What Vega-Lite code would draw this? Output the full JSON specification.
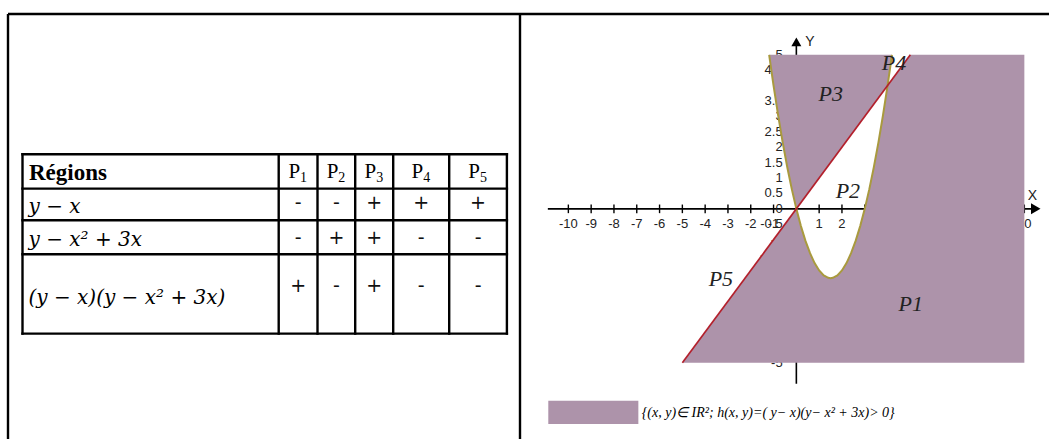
{
  "$schema": "https://vega.github.io/schema/vega-lite/v6.json",
  "padding": {"left": 6, "top": 12, "right": 0, "bottom": 0},
  "spacing": 0,
  "bounds": "flush",
  "background": "white",
  "config": {"view": {"stroke": null}},
  "datasets": {
    "frameL": [
      {"x": 0, "x2": 512, "y": 0, "y2": 0},
      {"x": 0, "x2": 0, "y": 0, "y2": 425},
      {"x": 512, "x2": 512, "y": 0, "y2": 425}
    ],
    "grid": [
      {"x": 14.5, "x2": 14.5, "y": 140.2, "y2": 319.6},
      {"x": 270.7, "x2": 270.7, "y": 140.2, "y2": 319.6},
      {"x": 309.5, "x2": 309.5, "y": 140.2, "y2": 319.6},
      {"x": 347.2, "x2": 347.2, "y": 140.2, "y2": 319.6},
      {"x": 385.2, "x2": 385.2, "y": 140.2, "y2": 319.6},
      {"x": 441.2, "x2": 441.2, "y": 140.2, "y2": 319.6},
      {"x": 498.9, "x2": 498.9, "y": 140.2, "y2": 319.6},
      {"x": 14.5, "x2": 498.9, "y": 140.2, "y2": 140.2},
      {"x": 14.5, "x2": 498.9, "y": 174.6, "y2": 174.6},
      {"x": 14.5, "x2": 498.9, "y": 206.2, "y2": 206.2},
      {"x": 14.5, "x2": 498.9, "y": 240.2, "y2": 240.2},
      {"x": 14.5, "x2": 498.9, "y": 319.6, "y2": 319.6}
    ],
    "rowlabels": [
      {"x": 20.5, "y": 198.5, "t": "y − x"},
      {"x": 20.5, "y": 231.9, "t": "y − x² + 3x"},
      {"x": 20.5, "y": 290.2, "t": "(y − x)(y − x² + 3x)"}
    ],
    "headers": [
      {"x": 290.1, "y": 164.2, "p": "P", "n": "1"},
      {"x": 328.35, "y": 164.2, "p": "P", "n": "2"},
      {"x": 366.2, "y": 164.2, "p": "P", "n": "3"},
      {"x": 413.2, "y": 164.2, "p": "P", "n": "4"},
      {"x": 470.05, "y": 164.2, "p": "P", "n": "5"}
    ],
    "signs": [
      {"x": 290.1, "y": 189, "t": "-"},
      {"x": 328.35, "y": 189, "t": "-"},
      {"x": 366.2, "y": 189, "t": "+"},
      {"x": 413.2, "y": 189, "t": "+"},
      {"x": 470.05, "y": 189, "t": "+"},
      {"x": 290.1, "y": 224, "t": "-"},
      {"x": 328.35, "y": 224, "t": "+"},
      {"x": 366.2, "y": 224, "t": "+"},
      {"x": 413.2, "y": 224, "t": "-"},
      {"x": 470.05, "y": 224, "t": "-"},
      {"x": 290.1, "y": 272, "t": "+"},
      {"x": 328.35, "y": 272, "t": "-"},
      {"x": 366.2, "y": 272, "t": "+"},
      {"x": 413.2, "y": 272, "t": "-"},
      {"x": 470.05, "y": 272, "t": "-"}
    ],
    "xticks": [
      {"v": -10, "t": "-10"}, {"v": -9, "t": "-9"}, {"v": -8, "t": "-8"}, {"v": -7, "t": "-7"},
      {"v": -6, "t": "-6"}, {"v": -5, "t": "-5"}, {"v": -4, "t": "-4"}, {"v": -3, "t": "-3"},
      {"v": -2, "t": "-2"}, {"v": -1, "t": "-1"}, {"v": 1, "t": "1"}, {"v": 2, "t": "2"},
      {"v": 3, "t": "3"}, {"v": 4, "t": "4"}, {"v": 5, "t": "5"}, {"v": 6, "t": "6"},
      {"v": 7, "t": "7"}, {"v": 8, "t": "8"}, {"v": 9, "t": "9"}, {"v": 10, "t": "10"}
    ],
    "yticks": [
      {"v": -5, "t": "-5"}, {"v": -4.5, "t": "-4.5"}, {"v": -4, "t": "-4"}, {"v": -3.5, "t": "-3.5"},
      {"v": -3, "t": "-3"}, {"v": -2.5, "t": "-2.5"}, {"v": -2, "t": "-2"}, {"v": -1.5, "t": "-1.5"},
      {"v": -1, "t": "-1"}, {"v": -0.5, "t": "-0.5"}, {"v": 0, "t": "0"}, {"v": 0.5, "t": "0.5"},
      {"v": 1, "t": "1"}, {"v": 1.5, "t": "1.5"}, {"v": 2, "t": "2"}, {"v": 2.5, "t": "2.5"},
      {"v": 3, "t": "3"}, {"v": 3.5, "t": "3.5"}, {"v": 4, "t": "4"}, {"v": 4.5, "t": "4.5"},
      {"v": 5, "t": "5"}
    ],
    "p1": [
      {"x": -5, "y": -5}, {"x": 0, "y": 0}, {"x": 0.2, "y": -0.56}, {"x": 0.4, "y": -1.04},
      {"x": 0.6, "y": -1.44}, {"x": 0.8, "y": -1.76}, {"x": 1, "y": -2}, {"x": 1.2, "y": -2.16},
      {"x": 1.4, "y": -2.24}, {"x": 1.5, "y": -2.25}, {"x": 1.6, "y": -2.24}, {"x": 1.8, "y": -2.16},
      {"x": 2, "y": -2}, {"x": 2.2, "y": -1.76}, {"x": 2.4, "y": -1.44}, {"x": 2.6, "y": -1.04},
      {"x": 2.8, "y": -0.56}, {"x": 3, "y": 0}, {"x": 3.2, "y": 0.64}, {"x": 3.4, "y": 1.36},
      {"x": 3.6, "y": 2.16}, {"x": 3.8, "y": 3.04}, {"x": 4, "y": 4}, {"x": 5, "y": 5}, {"x": 10, "y": 5}
    ],
    "p3": [
      {"x": -1.1926, "y": 5}, {"x": -1.1, "y": 4.51}, {"x": -1, "y": 4}, {"x": -0.8, "y": 3.04},
      {"x": -0.6, "y": 2.16}, {"x": -0.4, "y": 1.36}, {"x": -0.2, "y": 0.64}, {"x": 0, "y": 0},
      {"x": 4, "y": 4}, {"x": 4.1, "y": 4.51}, {"x": 4.1926, "y": 5}
    ],
    "parab": [
      {"x": -1.1926, "y": 5}, {"x": -1.1, "y": 4.51}, {"x": -1, "y": 4}, {"x": -0.8, "y": 3.04},
      {"x": -0.6, "y": 2.16}, {"x": -0.4, "y": 1.36}, {"x": -0.2, "y": 0.64}, {"x": 0, "y": 0},
      {"x": 0.2, "y": -0.56}, {"x": 0.4, "y": -1.04}, {"x": 0.6, "y": -1.44}, {"x": 0.8, "y": -1.76},
      {"x": 1, "y": -2}, {"x": 1.2, "y": -2.16}, {"x": 1.4, "y": -2.24}, {"x": 1.5, "y": -2.25},
      {"x": 1.6, "y": -2.24}, {"x": 1.8, "y": -2.16}, {"x": 2, "y": -2}, {"x": 2.2, "y": -1.76},
      {"x": 2.4, "y": -1.44}, {"x": 2.6, "y": -1.04}, {"x": 2.8, "y": -0.56}, {"x": 3, "y": 0},
      {"x": 3.2, "y": 0.64}, {"x": 3.4, "y": 1.36}, {"x": 3.6, "y": 2.16}, {"x": 3.8, "y": 3.04},
      {"x": 4, "y": 4}, {"x": 4.1, "y": 4.51}, {"x": 4.1926, "y": 5}
    ],
    "diag": [{"x": -5, "y": -5}, {"x": 5, "y": 5}],
    "regions": [
      {"x": 5.02, "y": -3.08, "t": "P1"},
      {"x": 2.26, "y": 0.58, "t": "P2"},
      {"x": 1.51, "y": 3.73, "t": "P3"},
      {"x": 4.28, "y": 4.74, "t": "P4"},
      {"x": -3.31, "y": -2.27, "t": "P5"}
    ],
    "legendbox": [{"x": -10.88, "x2": -6.93, "y": -6.234, "y2": -6.981}],
    "legendtext": [{"x": -6.78, "y": -6.62, "t": "{(x, y)∈ IR²; h(x, y)=( y− x)(y− x² + 3x)> 0}"}],
    "one": [{"k": 1}]
  },
  "hconcat": [
    {
      "width": 512,
      "height": 425,
      "layer": [
        {
          "data": {"name": "frameL"},
          "mark": {"type": "rule", "stroke": "black", "strokeWidth": 2.4},
          "encoding": {
            "x": {"field": "x", "type": "quantitative", "scale": {"domain": [0, 512], "nice": false, "zero": false}, "axis": null},
            "x2": {"field": "x2"},
            "y": {"field": "y", "type": "quantitative", "scale": {"domain": [0, 425], "nice": false, "zero": false, "reverse": true}, "axis": null},
            "y2": {"field": "y2"}
          }
        },
        {
          "data": {"name": "grid"},
          "mark": {"type": "rule", "stroke": "black", "strokeWidth": 2.4, "strokeCap": "square"},
          "encoding": {
            "x": {"field": "x", "type": "quantitative", "axis": null},
            "x2": {"field": "x2"},
            "y": {"field": "y", "type": "quantitative", "axis": null},
            "y2": {"field": "y2"}
          }
        },
        {
          "data": {"values": [{"x": 21, "y": 166.2, "t": "Régions"}]},
          "mark": {"type": "text", "align": "left", "baseline": "alphabetic", "font": "Liberation Serif", "fontWeight": "bold", "fontSize": 23, "color": "black"},
          "encoding": {
            "x": {"field": "x", "type": "quantitative", "axis": null},
            "y": {"field": "y", "type": "quantitative", "axis": null},
            "text": {"field": "t"}
          }
        },
        {
          "data": {"name": "rowlabels"},
          "mark": {"type": "text", "align": "left", "baseline": "alphabetic", "font": "DejaVu Serif", "fontStyle": "italic", "fontSize": 20, "color": "black"},
          "encoding": {
            "x": {"field": "x", "type": "quantitative", "axis": null},
            "y": {"field": "y", "type": "quantitative", "axis": null},
            "text": {"field": "t"}
          }
        },
        {
          "data": {"name": "headers"},
          "mark": {"type": "text", "align": "right", "baseline": "alphabetic", "dx": 2, "font": "Liberation Serif", "fontSize": 21, "color": "black"},
          "encoding": {
            "x": {"field": "x", "type": "quantitative", "axis": null},
            "y": {"field": "y", "type": "quantitative", "axis": null},
            "text": {"field": "p"}
          }
        },
        {
          "data": {"name": "headers"},
          "mark": {"type": "text", "align": "left", "baseline": "alphabetic", "dx": 2, "dy": 4, "font": "Liberation Serif", "fontSize": 14, "color": "black"},
          "encoding": {
            "x": {"field": "x", "type": "quantitative", "axis": null},
            "y": {"field": "y", "type": "quantitative", "axis": null},
            "text": {"field": "n"}
          }
        },
        {
          "data": {"name": "signs"},
          "mark": {"type": "text", "align": "center", "baseline": "middle", "font": "DejaVu Sans", "fontSize": 19, "color": "#111"},
          "encoding": {
            "x": {"field": "x", "type": "quantitative", "axis": null},
            "y": {"field": "y", "type": "quantitative", "axis": null},
            "text": {"field": "t"}
          }
        }
      ]
    },
    {
      "width": 529,
      "height": 425,
      "layer": [
        {
          "data": {"name": "one"},
          "mark": {"type": "rule", "stroke": "black", "strokeWidth": 2.4},
          "encoding": {
            "x": {"datum": -12.121, "type": "quantitative", "scale": {"domain": [-12.121, 11.081], "nice": false, "zero": false}, "axis": null},
            "x2": {"datum": 11.081},
            "y": {"datum": 6.326, "type": "quantitative", "scale": {"domain": [-7.472, 6.326], "nice": false, "zero": false}, "axis": null}
          }
        },
        {
          "data": {"name": "one"},
          "mark": {"type": "rule", "stroke": "black", "strokeWidth": 1.6},
          "encoding": {
            "x": {"datum": -10.9, "type": "quantitative", "axis": null},
            "x2": {"datum": 10.4},
            "y": {"datum": 0, "type": "quantitative", "axis": null}
          }
        },
        {
          "data": {"name": "one"},
          "mark": {"type": "rule", "stroke": "black", "strokeWidth": 1.6},
          "encoding": {
            "x": {"datum": 0, "type": "quantitative", "axis": null},
            "y": {"datum": -5.68, "type": "quantitative", "axis": null},
            "y2": {"datum": 5.3}
          }
        },
        {
          "data": {"name": "xticks"},
          "mark": {"type": "rule", "stroke": "black", "strokeWidth": 1.4},
          "encoding": {
            "x": {"field": "v", "type": "quantitative", "axis": null},
            "y": {"datum": -0.14, "type": "quantitative", "axis": null},
            "y2": {"datum": 0.14}
          }
        },
        {
          "data": {"name": "xticks"},
          "mark": {"type": "text", "align": "center", "baseline": "middle", "dy": 15, "font": "Liberation Sans", "fontSize": 13, "color": "#222"},
          "encoding": {
            "x": {"field": "v", "type": "quantitative", "axis": null},
            "y": {"datum": 0, "type": "quantitative", "axis": null},
            "text": {"field": "t"}
          }
        },
        {
          "data": {"name": "yticks"},
          "mark": {"type": "text", "align": "right", "baseline": "middle", "font": "Liberation Sans", "fontSize": 13, "color": "#222"},
          "encoding": {
            "x": {"datum": -0.6, "type": "quantitative", "axis": null},
            "y": {"field": "v", "type": "quantitative", "axis": null},
            "text": {"field": "t"}
          }
        },
        {
          "data": {"name": "one"},
          "mark": {"type": "point", "shape": "triangle-right", "filled": true, "size": 120, "color": "black", "opacity": 1},
          "encoding": {
            "x": {"datum": 10.5, "type": "quantitative", "axis": null},
            "y": {"datum": 0, "type": "quantitative", "axis": null}
          }
        },
        {
          "data": {"name": "one"},
          "mark": {"type": "point", "shape": "triangle-up", "filled": true, "size": 100, "color": "black", "opacity": 1},
          "encoding": {
            "x": {"datum": 0, "type": "quantitative", "axis": null},
            "y": {"datum": 5.42, "type": "quantitative", "axis": null}
          }
        },
        {
          "data": {"values": [{"x": 10.35, "y": 0.42, "t": "X"}, {"x": 0.6, "y": 5.42, "t": "Y"}]},
          "mark": {"type": "text", "align": "center", "baseline": "middle", "font": "Liberation Sans", "fontSize": 14, "color": "#222"},
          "encoding": {
            "x": {"field": "x", "type": "quantitative", "axis": null},
            "y": {"field": "y", "type": "quantitative", "axis": null},
            "text": {"field": "t"}
          }
        },
        {
          "data": {"name": "p1"},
          "mark": {"type": "area", "color": "#ad93aa", "opacity": 1, "interpolate": "linear"},
          "encoding": {
            "x": {"field": "x", "type": "quantitative", "axis": null},
            "y": {"field": "y", "type": "quantitative", "axis": null},
            "y2": {"datum": -5}
          }
        },
        {
          "data": {"name": "p3"},
          "mark": {"type": "area", "color": "#ad93aa", "opacity": 1, "interpolate": "linear"},
          "encoding": {
            "x": {"field": "x", "type": "quantitative", "axis": null},
            "y": {"field": "y", "type": "quantitative", "axis": null},
            "y2": {"datum": 5}
          }
        },
        {
          "data": {"name": "parab"},
          "mark": {"type": "line", "color": "#a99a3e", "strokeWidth": 2},
          "encoding": {
            "x": {"field": "x", "type": "quantitative", "axis": null},
            "y": {"field": "y", "type": "quantitative", "axis": null}
          }
        },
        {
          "data": {"name": "diag"},
          "mark": {"type": "line", "color": "#b3202c", "strokeWidth": 1.7},
          "encoding": {
            "x": {"field": "x", "type": "quantitative", "axis": null},
            "y": {"field": "y", "type": "quantitative", "axis": null}
          }
        },
        {
          "data": {"name": "regions"},
          "mark": {"type": "text", "align": "center", "baseline": "middle", "font": "Liberation Serif", "fontStyle": "italic", "fontSize": 22, "color": "#222"},
          "encoding": {
            "x": {"field": "x", "type": "quantitative", "axis": null},
            "y": {"field": "y", "type": "quantitative", "axis": null},
            "text": {"field": "t"}
          }
        },
        {
          "data": {"name": "legendbox"},
          "mark": {"type": "rect", "color": "#ad93aa", "opacity": 1},
          "encoding": {
            "x": {"field": "x", "type": "quantitative", "axis": null},
            "x2": {"field": "x2"},
            "y": {"field": "y", "type": "quantitative", "axis": null},
            "y2": {"field": "y2"}
          }
        },
        {
          "data": {"name": "legendtext"},
          "mark": {"type": "text", "align": "left", "baseline": "middle", "font": "Liberation Serif", "fontStyle": "italic", "fontSize": 14, "color": "black"},
          "encoding": {
            "x": {"field": "x", "type": "quantitative", "axis": null},
            "y": {"field": "y", "type": "quantitative", "axis": null},
            "text": {"field": "t"}
          }
        }
      ]
    }
  ]
}
